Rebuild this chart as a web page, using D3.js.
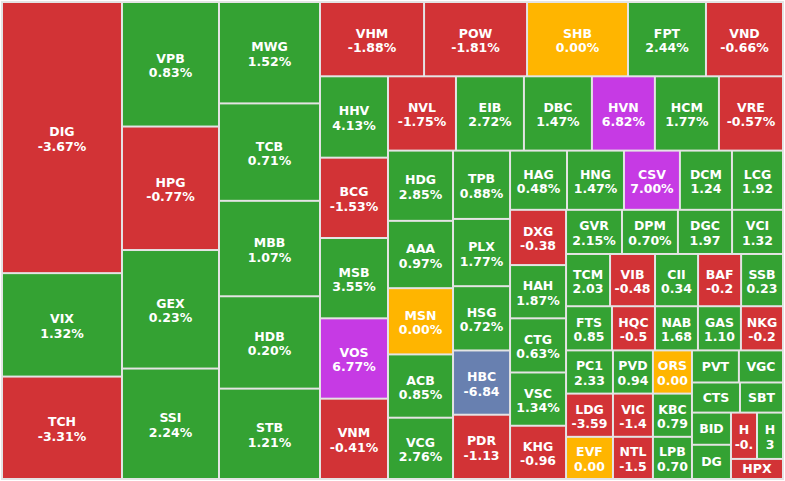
<!DOCTYPE html>
<html>
<head>
<meta charset="utf-8">
<script src="https://cdn.jsdelivr.net/npm/d3@7"></script>
<style>
  html, body { margin: 0; padding: 0; background: #ffffff; }
  svg { display: block; }
  text { font-family: Tahoma, Verdana, "DejaVu Sans", sans-serif; font-weight: bold; fill: #ffffff; }
</style>
</head>
<body>
<svg id="chart" width="785" height="481"></svg>
<script>
// ---- data ----
const tickers = [
  "DIG","VIX","TCH",
  "VPB","HPG","GEX","SSI",
  "MWG","TCB","MBB","HDB","STB",
  "VHM","POW","SHB","FPT","VND",
  "HHV","BCG","MSB","VOS","VNM",
  "NVL","EIB","DBC","HVN","HCM","VRE",
  "HDG","AAA","MSN","ACB","VCG",
  "TPB","PLX","HSG","HBC","PDR",
  "HAG","HNG","CSV","DCM","LCG",
  "DXG","HAH","CTG","VSC","KHG",
  "GVR","DPM","DGC","VCI",
  "TCM","VIB","CII","BAF","SSB",
  "FTS","HQC","NAB","GAS","NKG",
  "PC1","LDG","EVF",
  "PVD","VIC","NTL",
  "ORS","KBC","LPB",
  "PVT","VGC","CTS","SBT",
  "BID","DG","H","H","HPX"
];
// relative traded size of each tile
const sizes = [
  32400,12360,12240,
  12030,11930,11450,10670,
  10200,9800,9600,9290,9090,
  7700,7620,7470,5770,5700,
  5510,5440,5440,5440,5440,
  5030,5030,5030,4660,4740,4740,
  4550,4360,4290,4100,3970,
  3880,3820,3650,3650,3650,
  3360,3360,3300,3070,3010,
  3080,2970,3020,2970,2970,
  2460,2460,2380,2240,
  2290,2340,2240,2240,2180,
  2020,1890,1890,1890,1850,
  2020,2020,1970,
  1720,1720,1680,
  1680,1680,1640,
  1500,1410,1440,1290,
  1250,1330,1200,1200,1040
];
// price change (%)
const changes = [
  -3.67,1.32,-3.31,
  0.83,-0.77,0.23,2.24,
  1.52,0.71,1.07,0.20,1.21,
  -1.88,-1.81,0.00,2.44,-0.66,
  4.13,-1.53,3.55,6.77,-0.41,
  -1.75,2.72,1.47,6.82,1.77,-0.57,
  2.85,0.97,0.00,0.85,2.76,
  0.88,1.77,0.72,-6.84,-1.13,
  0.48,1.47,7.00,1.24,1.92,
  -0.38,1.87,0.63,1.34,-0.96,
  2.15,0.70,1.97,1.32,
  2.03,-0.48,0.34,-0.20,0.23,
  0.85,-0.50,1.68,1.10,-0.20,
  2.33,-3.59,0.00,
  0.94,-1.40,-1.50,
  0.00,0.79,0.70,
  1.00,0.50,1.00,0.50,
  0.30,1.00,-0.50,3.00,-1.00
];
// change text as shown in each tile (shortened to fit)
const changeLabels = [
  "-3.67%","1.32%","-3.31%",
  "0.83%","-0.77%","0.23%","2.24%",
  "1.52%","0.71%","1.07%","0.20%","1.21%",
  "-1.88%","-1.81%","0.00%","2.44%","-0.66%",
  "4.13%","-1.53%","3.55%","6.77%","-0.41%",
  "-1.75%","2.72%","1.47%","6.82%","1.77%","-0.57%",
  "2.85%","0.97%","0.00%","0.85%","2.76%",
  "0.88%","1.77%","0.72%","-6.84","-1.13",
  "0.48%","1.47%","7.00%","1.24","1.92",
  "-0.38","1.87%","0.63%","1.34%","-0.96",
  "2.15%","0.70%","1.97","1.32",
  "2.03","-0.48","0.34","-0.2","0.23",
  "0.85","-0.5","1.68","1.10","-0.2",
  "2.33","-3.59","0.00",
  "0.94","-1.4","-1.5",
  "0.00","0.79","0.70",
  "","","","",
  "","","-0.","3",""
];

// strip structure of the treemap ("row": left to right, "col": top to bottom)
const strips = ["row",
  ["col","DIG","VIX","TCH"],
  ["col","VPB","HPG","GEX","SSI"],
  ["col","MWG","TCB","MBB","HDB","STB"],
  ["col",
    ["row","VHM","POW","SHB","FPT","VND"],
    ["row",
      ["col","HHV","BCG","MSB","VOS","VNM"],
      ["col",
        ["row","NVL","EIB","DBC","HVN","HCM","VRE"],
        ["row",
          ["col","HDG","AAA","MSN","ACB","VCG"],
          ["col","TPB","PLX","HSG","HBC","PDR"],
          ["col",
            ["row","HAG","HNG","CSV","DCM","LCG"],
            ["row",
              ["col","DXG","HAH","CTG","VSC","KHG"],
              ["col",
                ["row","GVR","DPM","DGC","VCI"],
                ["row","TCM","VIB","CII","BAF","SSB"],
                ["row","FTS","HQC","NAB","GAS","NKG"],
                ["row",
                  ["col","PC1","LDG","EVF"],
                  ["col","PVD","VIC","NTL"],
                  ["col","ORS","KBC","LPB"],
                  ["col",
                    ["row","PVT","VGC"],
                    ["row","CTS","SBT"],
                    ["row",
                      ["col","BID","DG"],
                      ["col",["row","H","H"],"HPX"]
                    ]
                  ]
                ]
              ]
            ]
          ]
        ]
      ]
    ]
  ]
];

// ---- build hierarchy ----
const used = new Set();
function pick(name) {
  for (let i = 0; i < tickers.length; i++) {
    if (tickers[i] === name && !used.has(i)) { used.add(i); return i; }
  }
  return -1;
}
function build(spec) {
  if (typeof spec === "string") return { idx: pick(spec) };
  return { dir: spec[0], children: spec.slice(1).map(build) };
}
const root = d3.hierarchy(build(strips))
  .sum(d => d.idx !== undefined ? sizes[d.idx] : 0);

function tile(node, x0, y0, x1, y1) {
  (node.data.dir === "row" ? d3.treemapDice : d3.treemapSlice)(node, x0, y0, x1, y1);
}

const W = 779, H = 475, X0 = 3, Y0 = 3;
d3.treemap().tile(tile).size([W, H]).paddingInner(2).round(false)(root);

function colorOf(v) {
  if (v >= 6.7) return "#c63ae4";
  if (v <= -6.7) return "#6880b0";
  if (v === 0) return "#ffb500";
  return v > 0 ? "#34a233" : "#d23336";
}

const svg = d3.select("#chart");
svg.append("rect").attr("x", 1).attr("y", 1).attr("width", 783).attr("height", 479)
  .attr("fill", "#e4e4e4");

const g = svg.append("g").attr("transform", `translate(${X0},${Y0})`);
const leaves = root.leaves();

const cell = g.selectAll("g.cell").data(leaves).join("g")
  .attr("class", "cell")
  .attr("transform", d => `translate(${d.x0},${d.y0})`);

cell.append("clipPath").attr("id", (d, i) => "clip" + i)
  .append("rect").attr("width", d => d.x1 - d.x0).attr("height", d => d.y1 - d.y0);

cell.append("rect")
  .attr("width", d => d.x1 - d.x0)
  .attr("height", d => d.y1 - d.y0)
  .attr("fill", d => colorOf(changes[d.data.idx]));

const fs = 12.5;
cell.each(function(d, i) {
  const sel = d3.select(this).append("g").attr("clip-path", `url(#clip${i})`);
  const w = d.x1 - d.x0, h = d.y1 - d.y0;
  const cx = w / 2, cy = h / 2;
  const lbl = changeLabels[d.data.idx];
  if (lbl) {
    sel.append("text").attr("x", cx).attr("y", cy - 1.5).attr("text-anchor", "middle")
      .attr("font-size", fs).text(tickers[d.data.idx]);
    sel.append("text").attr("x", cx).attr("y", cy + 13).attr("text-anchor", "middle")
      .attr("font-size", fs).text(lbl);
  } else {
    sel.append("text").attr("x", cx).attr("y", cy + 4.5).attr("text-anchor", "middle")
      .attr("font-size", fs).text(tickers[d.data.idx]);
  }
});
</script>
</body>
</html>
